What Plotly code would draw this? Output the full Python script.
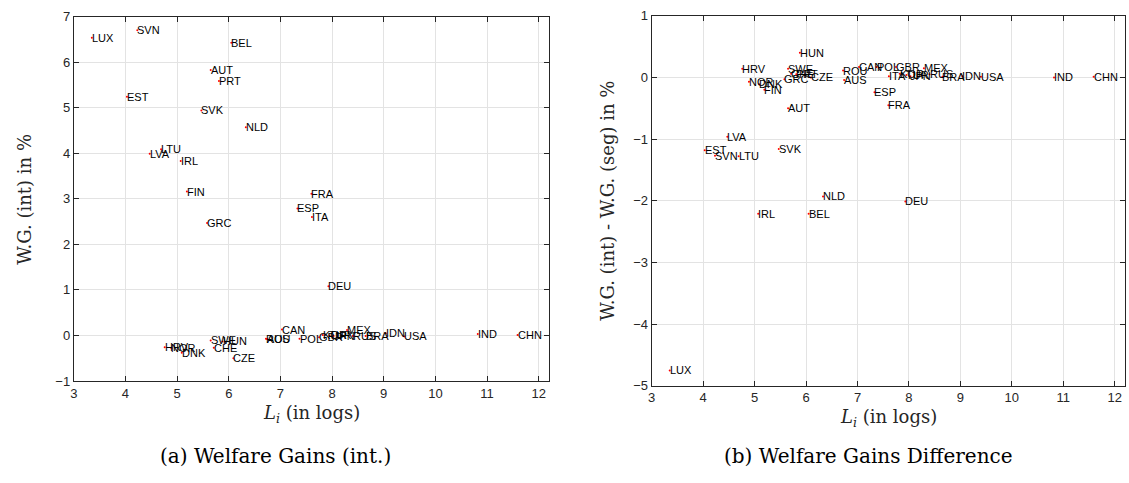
import plotly.graph_objects as go

countries = ["LUX", "SVN", "EST", "BEL", "AUT", "PRT", "SVK", "NLD", "LTU", "LVA",
             "IRL", "FIN", "GRC", "FRA", "ESP", "ITA", "DEU", "CAN", "MEX", "HRV",
             "NOR", "DNK", "SWE", "HUN", "CHE", "CZE", "ROU", "AUS", "POL", "GBR",
             "KOR", "TUR", "JPN", "RUS", "BRA", "IDN", "USA", "IND", "CHN"]
log_L = [3.35, 4.23, 4.03, 6.05, 5.65, 5.81, 5.47, 6.33, 4.69, 4.47,
         5.07, 5.19, 5.58, 7.60, 7.33, 7.61, 7.93, 7.03, 8.29, 4.76,
         4.89, 5.09, 5.65, 5.88, 5.71, 6.09, 6.72, 6.74, 7.37, 7.75,
         7.82, 7.95, 8.03, 8.40, 8.65, 9.04, 9.40, 10.82, 11.59]
wg_int = [6.54, 6.70, 5.24, 6.43, 5.83, 5.59, 4.94, 4.57, 4.09, 3.99,
          3.83, 3.16, 2.47, 3.11, 2.79, 2.60, 1.08, 0.13, 0.12, -0.26,
          -0.28, -0.38, -0.11, -0.13, -0.27, -0.50, -0.07, -0.08, -0.07, -0.04,
          0.01, 0.00, -0.01, -0.01, -0.01, 0.05, -0.02, 0.03, 0.01]
wg_diff = [-4.75, -1.27, -1.18, -2.21, -0.50, 0.05, -1.16, -1.93, -1.28, -0.96,
           -2.21, -0.20, -0.03, -0.45, -0.24, 0.02, -2.01, 0.17, 0.15, 0.14,
           -0.07, -0.11, 0.14, 0.40, 0.06, 0.00, 0.11, -0.04, 0.17, 0.17,
           0.06, 0.04, 0.02, 0.05, 0.01, 0.02, 0.01, 0.00, 0.01]

x_ticks = list(range(3, 13))
y1_ticks = list(range(-1, 8))
y2_ticks = list(range(-5, 2))

W, H = 1129, 483
fig = go.Figure()

fig.add_trace(go.Scatter(x=log_L, y=wg_int, mode="markers", xaxis="x", yaxis="y",
                         marker=dict(color="red", size=2), showlegend=False,
                         hoverinfo="text", text=countries))
fig.add_trace(go.Scatter(x=log_L, y=wg_diff, mode="markers", xaxis="x2", yaxis="y2",
                         marker=dict(color="red", size=2), showlegend=False,
                         hoverinfo="text", text=countries))

lab_font = dict(family="Liberation Sans, Arial", size=11, color="black")
annotations = []
for c, xv, y1, y2 in zip(countries, log_L, wg_int, wg_diff):
    annotations.append(dict(x=xv, y=y1, xref="x", yref="y", text=c, showarrow=False,
                            xanchor="left", yanchor="middle", xshift=-2, font=lab_font))
    annotations.append(dict(x=xv, y=y2, xref="x2", yref="y2", text=c, showarrow=False,
                            xanchor="left", yanchor="middle", xshift=-2, font=lab_font))

serif = "DejaVu Serif, serif"
title_font = dict(family=serif, size=18, color="#262626")
cap_font = dict(family=serif, size=20, color="black")

# axis titles
annotations += [
    dict(x=(70 + 547) / 2 / W, y=1 - 420 / H, xref="paper", yref="paper",
         text="<i>L</i><sub><i>i</i></sub> (in logs)", showarrow=False,
         xanchor="center", yanchor="middle", font=title_font),
    dict(x=(650 + 1125) / 2 / W, y=1 - 424 / H, xref="paper", yref="paper",
         text="<i>L</i><sub><i>i</i></sub> (in logs)", showarrow=False,
         xanchor="center", yanchor="middle", font=title_font),
    dict(x=21 / W, y=1 - 198 / H, xref="paper", yref="paper",
         text="W.G. (int) in %", showarrow=False, textangle=-90,
         xanchor="center", yanchor="middle", font=title_font),
    dict(x=606 / W, y=1 - 200 / H, xref="paper", yref="paper",
         text="W.G. (int) - W.G. (seg) in %", showarrow=False, textangle=-90,
         xanchor="center", yanchor="middle", font=title_font),
    dict(x=272 / W, y=1 - 463 / H, xref="paper", yref="paper",
         text="(a) Welfare Gains (int.)", showarrow=False,
         xanchor="center", yanchor="middle", font=cap_font),
    dict(x=868 / W, y=1 - 463 / H, xref="paper", yref="paper",
         text="(b) Welfare Gains Difference", showarrow=False,
         xanchor="center", yanchor="middle", font=cap_font),
]

axis_common = dict(showgrid=True, gridcolor="#e3e3e3", gridwidth=1,
                   showline=True, linecolor="#262626", linewidth=1, mirror="ticks",
                   ticks="inside", ticklen=5, tickcolor="#262626",
                   tickfont=dict(family="Liberation Sans, Arial", size=13, color="#262626"),
                   zeroline=False)

fig.update_layout(
    width=W, height=H,
    margin=dict(l=0, r=0, t=0, b=0),
    paper_bgcolor="white", plot_bgcolor="white",
    xaxis=dict(domain=[70 / W, 547 / W], range=[3, 12.2], tickvals=x_ticks,
               anchor="y", **axis_common),
    yaxis=dict(domain=[1 - 386 / H, 1 - 10 / H], range=[-1, 7], tickvals=y1_ticks,
               anchor="x", **axis_common),
    xaxis2=dict(domain=[650 / W, 1125 / W], range=[3, 12.2], tickvals=x_ticks,
                anchor="y2", **axis_common),
    yaxis2=dict(domain=[1 - 391 / H, 1 - 9 / H], range=[-5, 1], tickvals=y2_ticks,
                anchor="x2", **axis_common),
    annotations=annotations,
)

fig.write_html("out.html", config={"displayModeBar": False},
               post_script="document.body.style.margin='0px';document.body.style.overflow='hidden';")
